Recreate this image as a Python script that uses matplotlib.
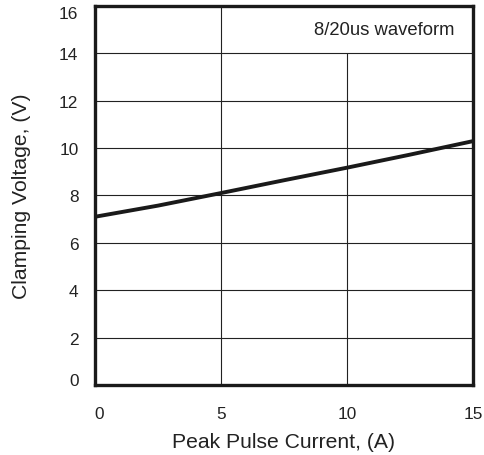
import numpy as np
import matplotlib.pyplot as plt
import matplotlib.transforms as mtransforms

# peak pulse current (A) vs clamping voltage (V)
current = [0, 2.5, 5, 7.5, 10, 12.5, 15]
voltage = [7.1, 7.57, 8.1, 8.64, 9.17, 9.72, 10.29]
x_ticks = [0, 5, 10, 15]
y_ticks = [0, 2, 4, 6, 8, 10, 12, 14, 16]

plt.rcParams['font.family'] = ['Liberation Sans', 'DejaVu Sans']

fig = plt.figure(figsize=(4.85, 4.56), dpi=100)
ax = fig.add_axes([0.196, 0.1535, 0.779, 0.8315])

# grid: horizontal full width, x=10 line stops under the caption
ax.grid(axis='y', color='#222222', lw=0.8)
ax.axvline(5, color='#222222', lw=0.8)
ax.vlines(10, 0, 14, color='#222222', lw=0.8)

ax.plot(current, voltage, color='#1a1a1a', lw=2.8, solid_capstyle='butt')

ax.text(11.5, 15.0, "8/20us waveform", fontsize=13.3, ha='center', va='center', color='#222222')

ax.set_xlim(0, 15)
ax.set_ylim(0, 16)
ax.set_xticks(x_ticks)
ax.set_yticks(y_ticks)
ax.tick_params(length=0, labelsize=12.4, colors='#222222')
ax.tick_params(axis='x', pad=15)
ax.tick_params(axis='y', pad=12)

# end labels sit a bit inside like the original
fig.canvas.draw()
ylabels = ax.get_yticklabels()
ylabels[0].set_transform(ylabels[0].get_transform() + mtransforms.ScaledTranslation(0, 6 / 100, fig.dpi_scale_trans))
ylabels[-1].set_transform(ylabels[-1].get_transform() + mtransforms.ScaledTranslation(0, -6 / 100, fig.dpi_scale_trans))
xlabels = ax.get_xticklabels()
xlabels[0].set_transform(xlabels[0].get_transform() + mtransforms.ScaledTranslation(4 / 100, 0, fig.dpi_scale_trans))

ax.set_xlabel("Peak Pulse Current, (A)", fontsize=15.2, color='#222222', labelpad=8)
ax.set_ylabel("Clamping Voltage, (V)", fontsize=15.2, color='#222222', labelpad=20)

for s in ax.spines.values():
    s.set_linewidth(2.4)
    s.set_color('#1a1a1a')

fig.savefig("out.png", dpi=100)
